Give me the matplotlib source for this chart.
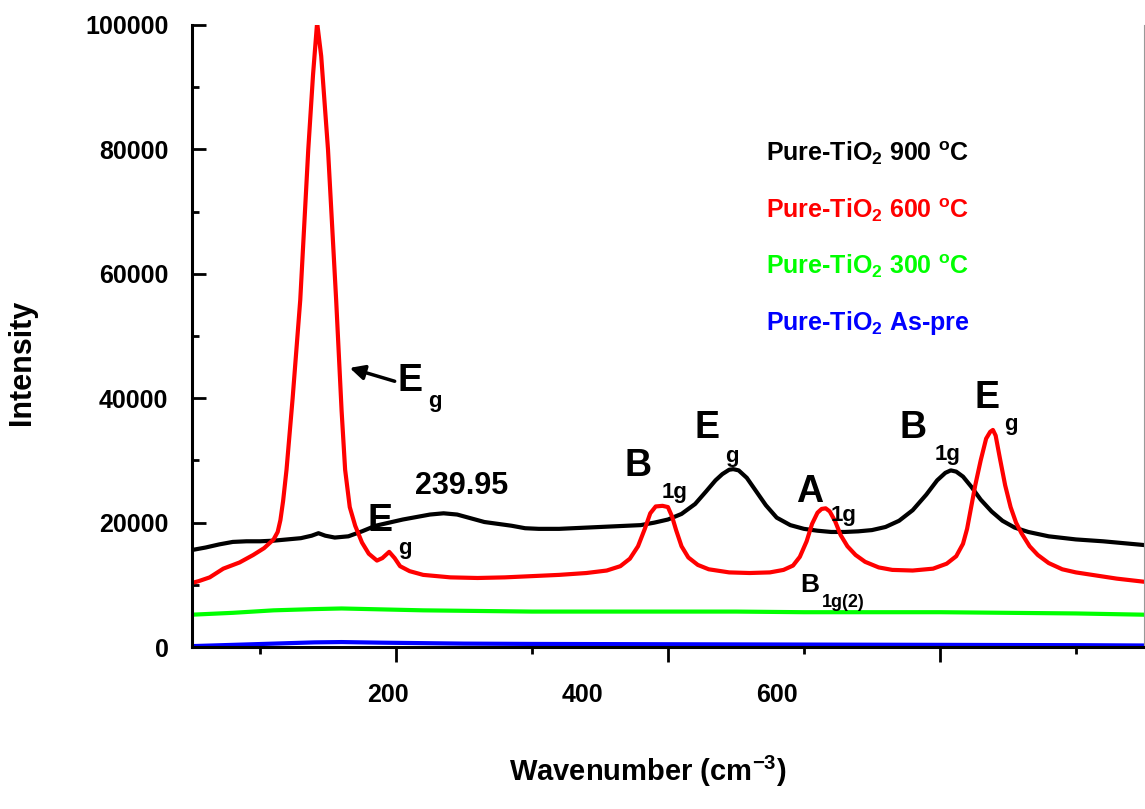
import matplotlib
matplotlib.use("Agg")
import matplotlib.pyplot as plt
from matplotlib.lines import Line2D

plt.rcParams['font.family'] = ['Liberation Sans', 'DejaVu Sans']
plt.rcParams['font.weight'] = 'bold'
plt.rcParams['mathtext.fontset'] = 'custom'
plt.rcParams['mathtext.rm'] = 'Liberation Sans:bold'
plt.rcParams['mathtext.it'] = 'Liberation Sans:bold'
plt.rcParams['mathtext.bf'] = 'Liberation Sans:bold'
plt.rcParams['mathtext.default'] = 'rm'

# --- data (wavenumber, intensity) ---
x_900 = [50, 60, 70, 80, 90, 100, 110, 120, 130, 138, 143, 148, 155, 165, 175, 185, 195,
         205, 215, 225, 235, 245, 255, 265, 275, 285, 295, 305, 320, 340, 360, 380, 390,
         400, 410, 420, 428, 435, 440, 445, 448, 452, 458, 465, 472, 480, 490, 500, 510,
         520, 530, 540, 550, 560, 570, 580, 590, 598, 604, 608, 612, 617, 623, 630, 638,
         646, 655, 665, 680, 700, 720, 750]
y_900 = [15600, 16000, 16500, 16900, 17000, 17000, 17100, 17300, 17500, 17900, 18300, 17900,
         17600, 17800, 18600, 19500, 20000, 20500, 20900, 21300, 21500, 21300, 20700, 20100,
         19800, 19500, 19100, 19000, 19000, 19200, 19400, 19600, 20000, 20500, 21400, 23000,
         25000, 26800, 27800, 28500, 28600, 28400, 27200, 25000, 22800, 20800, 19600, 19000,
         18700, 18500, 18500, 18600, 18800, 19300, 20300, 22000, 24500, 26800, 28000, 28400,
         28200, 27400, 25800, 23700, 21800, 20300, 19200, 18500, 17800, 17300, 17000, 16400]

x_600 = [50, 55, 63, 73, 85, 95, 103, 110, 113, 115, 117, 119.5, 124, 129.6, 135.5, 139,
         142, 145, 150, 156, 160, 162.6, 166, 170, 175, 180, 186, 190, 195, 199, 203, 210,
         220, 240, 260, 280, 300, 320, 340, 355, 365, 372, 378, 383, 387, 391, 396, 400,
         403, 406, 410, 415, 422, 430, 445, 460, 475, 485, 492, 497, 502, 506, 510, 513,
         516, 519, 523, 527, 532, 538, 545, 555, 565, 580, 595, 605, 612, 617, 620, 623,
         626, 630, 634, 637, 639, 641, 644, 648, 652, 656, 660, 666, 672, 680, 690, 700,
         715, 730, 750]
y_600 = [10300, 10600, 11200, 12600, 13600, 14800, 15900, 17300, 18500, 20400, 23500, 28500,
         40000, 55800, 80000, 92000, 100400, 95000, 80000, 55800, 38000, 28500, 22500, 19500,
         16800, 15000, 13900, 14300, 15300, 14300, 13000, 12200, 11600, 11200, 11100, 11200,
         11400, 11600, 11900, 12300, 13000, 14200, 16200, 19000, 21500, 22600, 22700, 22500,
         21000, 18800, 16200, 14400, 13200, 12500, 12000, 11900, 12000, 12400, 13100, 14500,
         17000, 19800, 21600, 22200, 22300, 21800, 20200, 18000, 16200, 14800, 13700, 12800,
         12400, 12300, 12600, 13400, 14600, 16600, 19000, 22500, 26000, 30000, 33500, 34600,
         34900, 34000, 30500, 26000, 22500, 20000, 18300, 16200, 14800, 13500, 12500, 12000,
         11500, 11000, 10500]

x_300 = [50, 80, 110, 140, 160, 180, 220, 260, 300, 350, 400, 450, 500, 550, 600, 650, 700, 750]
y_300 = [5200, 5500, 5900, 6100, 6200, 6100, 5900, 5800, 5700, 5700, 5700, 5700, 5600, 5600,
         5600, 5500, 5400, 5200]

x_pre = [50, 80, 110, 140, 160, 190, 250, 300, 400, 500, 600, 700, 750]
y_pre = [150, 350, 550, 750, 800, 700, 550, 500, 450, 400, 350, 300, 250]

labels = [r'Pure-TiO$_2$ 900 $^\mathrm{o}$C', r'Pure-TiO$_2$ 600 $^\mathrm{o}$C',
          r'Pure-TiO$_2$ 300 $^\mathrm{o}$C', r'Pure-TiO$_2$ As-pre']
colours = ['#000000', '#ff0000', '#00ff00', '#0000ff']

xtick_text = ['200', '400', '600']
xtick_text_pos = [194, 337, 480]   # the labels sit off their ticks in the original

fig = plt.figure(figsize=(11.45, 8.09), dpi=100)
ax = fig.add_axes([0.1677, 0.2002, 0.8313, 0.7689])

ax.plot(x_pre, y_pre, color=colours[3], lw=3)
ax.plot(x_300, y_300, color=colours[2], lw=3)
ax.plot(x_900, y_900, color=colours[0], lw=3)
ax.plot(x_600, y_600, color=colours[1], lw=3)

ax.set_xlim(50, 750)
ax.set_ylim(0, 100000)

ax.spines['top'].set_visible(False)
ax.spines['right'].set_linewidth(0.8)
ax.spines['right'].set_color('#999999')
ax.spines['left'].set_linewidth(2.2)
ax.spines['bottom'].set_linewidth(2.2)

ax.set_xticks([200, 400, 600])
ax.set_xticks([100, 300, 500, 700], minor=True)
ax.set_xticklabels([])
ax.tick_params(axis='x', which='major', direction='out', length=11, width=2)
ax.tick_params(axis='x', which='minor', direction='out', length=5, width=2)
for t, p in zip(xtick_text, xtick_text_pos):
    ax.text(p, -0.077, t, transform=ax.get_xaxis_transform(), ha='center', va='center',
            fontsize=18, fontweight='bold')

ax.set_yticks(range(0, 100001, 20000))
ax.set_yticks(range(10000, 100000, 20000), minor=True)
ax.tick_params(axis='y', which='major', direction='in', length=10, width=2,
               labelsize=18, pad=17, right=False)
ax.tick_params(axis='y', which='minor', direction='in', length=5, width=2, right=False)

ax.set_xlabel(r'Wavenumber (cm$^{-3}$)', fontsize=21, fontweight='bold')
ax.xaxis.set_label_coords(0.479, -0.172)
ax.set_ylabel('Intensity', fontsize=22, fontweight='bold')
ax.yaxis.set_label_coords(-0.163, 0.458)

handles = [Line2D([], [], color=c) for c in colours]
ax.legend(handles, labels, loc='upper left', bbox_to_anchor=(0.579, 0.852), frameon=False,
          handlelength=0, handletextpad=0, labelcolor=colours, fontsize=18, labelspacing=1.15)

# peak annotations
big = 27
small = 16
ax.annotate('', xy=(164, 45000), xytext=(201, 42600),
            arrowprops=dict(arrowstyle='-|>', color='black', lw=2.5, mutation_scale=22))
notes_big = [('E', 210, 42800), ('E', 188, 20300), ('B', 378, 29100), ('E', 429, 35200),
             ('A', 504, 24900), ('B', 580.5, 35200), ('E', 635, 40000)]
notes_sub = [('g', 228.6, 39400), ('g', 206.6, 15900), ('1g', 405, 24800), ('g', 447, 30700),
             ('1g', 529, 21200), ('1g', 606, 30900), ('g', 652, 35700)]
for t, x, y in notes_big:
    ax.text(x, y, t, fontsize=big, fontweight='bold', ha='center', va='center')
for t, x, y in notes_sub:
    ax.text(x, y, t, fontsize=small, fontweight='bold', ha='center', va='center')
ax.text(504, 10000, 'B', fontsize=19, fontweight='bold', ha='center', va='center')
ax.text(529, 7100, '1g(2)', fontsize=13, fontweight='bold', ha='center', va='center')
ax.text(248.4, 25900, '239.95', fontsize=22, fontweight='bold', ha='center', va='center')

fig.savefig('out.png', dpi=100)
